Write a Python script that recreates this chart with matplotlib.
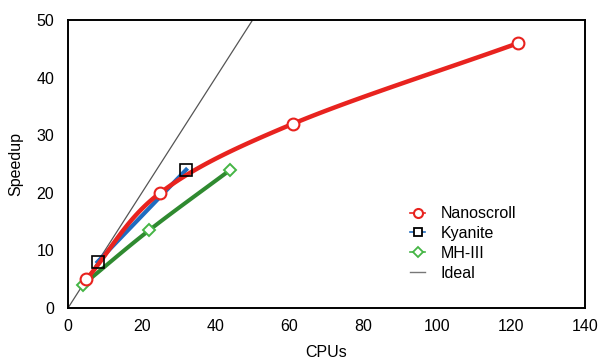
import numpy as np
import matplotlib
matplotlib.use("Agg")
from matplotlib import pyplot as plt

# data
nano_cpus = [5, 25, 61, 122]
nano_speedup = [5, 20, 32, 46]
kya_cpus = [8, 32]
kya_speedup = [8, 24]
mh_cpus = [4, 22, 44]
mh_speedup = [4, 13.5, 24]
ideal_cpus = [0, 50]
ideal_speedup = [0, 50]


def smooth(xs, ys, n=30):
    # Catmull-Rom style smoothing, like a spreadsheet "smoothed line"
    x = np.asarray(xs, float)
    y = np.asarray(ys, float)
    if len(x) < 3:
        return x, y
    px = np.concatenate([[2 * x[0] - x[1]], x, [2 * x[-1] - x[-2]]])
    py = np.concatenate([[2 * y[0] - y[1]], y, [2 * y[-1] - y[-2]]])
    t = np.linspace(0, 1, n)
    ox, oy = [], []
    for i in range(1, len(px) - 2):
        for p, o in ((px, ox), (py, oy)):
            p0, p1, p2, p3 = p[i - 1], p[i], p[i + 1], p[i + 2]
            o.extend(0.5 * (2 * p1 + (-p0 + p2) * t
                            + (2 * p0 - 5 * p1 + 4 * p2 - p3) * t ** 2
                            + (-p0 + 3 * p1 - 3 * p2 + p3) * t ** 3))
    return np.array(ox), np.array(oy)


plt.rcParams['font.family'] = ['Liberation Sans', 'DejaVu Sans']

fig = plt.figure(figsize=(5.98, 3.61), dpi=100)
ax = fig.add_axes([0.1137, 0.1468, 0.8643, 0.7978])

red = '#e8231f'
blue = '#1f6cc0'
green = '#2f8a30'
lgreen = '#45b545'

ax.plot(ideal_cpus, ideal_speedup, color='#555555', lw=0.9, label='Ideal', zorder=1)

sx, sy = smooth(mh_cpus, mh_speedup)
ax.plot(sx, sy, color=green, lw=2.9, zorder=2)
ax.plot(mh_cpus, mh_speedup, ls='none', marker='D', ms=6, mfc='white',
        mec=lgreen, mew=1.4, zorder=5)

ax.plot(kya_cpus, kya_speedup, color=blue, lw=3.0, zorder=3)
ax.plot(kya_cpus, kya_speedup, ls='none', marker='s', ms=8.5, mfc='none',
        mec='black', mew=1.2, zorder=6)

sx, sy = smooth(nano_cpus, nano_speedup)
ax.plot(sx, sy, color=red, lw=3.2, zorder=4)
ax.plot(nano_cpus, nano_speedup, ls='none', marker='o', ms=8.5, mfc='white',
        mec=red, mew=1.5, zorder=7)

# legend proxies
h1, = ax.plot([], [], color=red, lw=1.2, marker='o', ms=6.5, mfc='white', mec=red, mew=1.5)
h2, = ax.plot([], [], color=blue, lw=1.2, marker='s', ms=6, mfc='white', mec='black', mew=1.3)
h3, = ax.plot([], [], color=lgreen, lw=1.2, marker='D', ms=5, mfc='white', mec=lgreen, mew=1.3)
h4, = ax.plot([], [], color='#777777', lw=1)
ax.legend([h1, h2, h3, h4], ['Nanoscroll', 'Kyanite', 'MH-III', 'Ideal'],
          loc='lower right', bbox_to_anchor=(0.895, 0.045), frameon=False,
          fontsize=11.5, handlelength=0.9, handletextpad=1.0, labelspacing=0.3)

ax.set_xlim(0, 140)
ax.set_ylim(0, 50)
ax.set_xticks(range(0, 141, 20))
ax.set_yticks(range(0, 51, 10))
ax.tick_params(length=0, labelsize=11.5, pad=8)
ax.tick_params(axis='y', pad=10)
for s in ax.spines.values():
    s.set_linewidth(1.4)

ax.set_xlabel('CPUs', fontsize=11.5, labelpad=8)
ax.set_ylabel('Speedup', fontsize=11.5, labelpad=9)

fig.savefig('out.png', dpi=100)
